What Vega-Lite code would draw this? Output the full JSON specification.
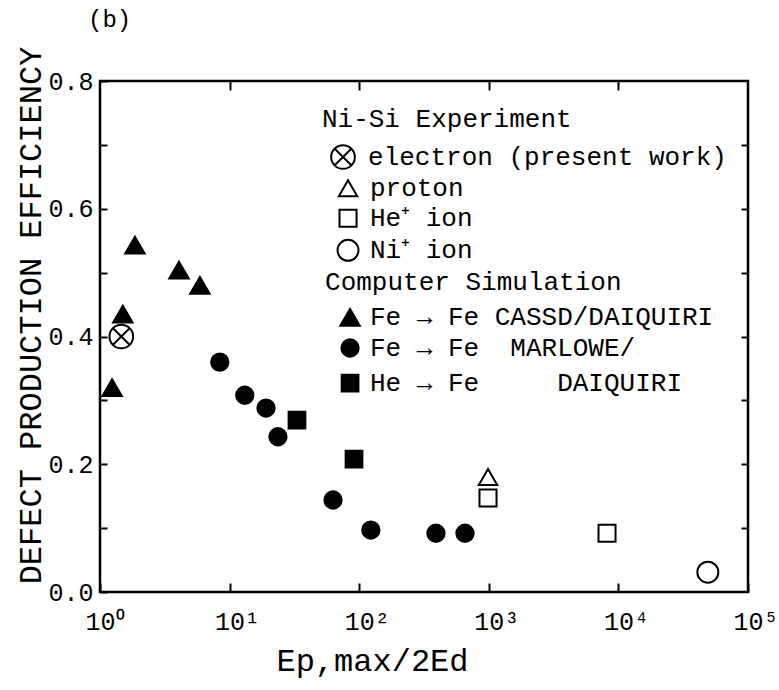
{
  "$schema": "https://vega.github.io/schema/vega-lite/v6.json",
  "width": 648,
  "height": 511,
  "autosize": {"type": "none"},
  "padding": {"left": 100, "top": 81, "right": 31, "bottom": 98},
  "background": "white",
  "title": {"text": "(b)", "anchor": "start", "frame": "group", "font": "Liberation Mono", "fontSize": 24, "fontWeight": "normal", "color": "black", "dx": -12, "offset": 14},
  "config": {
    "view": {"stroke": "black", "strokeWidth": 2.5},
    "axis": {"domain": false, "grid": false, "labelFont": "Liberation Mono", "titleFont": "Liberation Mono", "labelColor": "black", "titleColor": "black", "tickColor": "black", "tickWidth": 2, "labelFontSize": 25, "titleFontWeight": "normal", "titleFontSize": 32, "labelFlush": false}
  },
  "datasets": {
    "points": [
      {"x": 1.24, "y": 0.32, "s": "Fe CASSD"},
      {"x": 1.50, "y": 0.435, "s": "Fe CASSD"},
      {"x": 1.86, "y": 0.543, "s": "Fe CASSD"},
      {"x": 4.07, "y": 0.504, "s": "Fe CASSD"},
      {"x": 5.9, "y": 0.48, "s": "Fe CASSD"},
      {"x": 1.46, "y": 0.40, "s": "electron"},
      {"x": 8.4, "y": 0.36, "s": "Fe MARLOWE"},
      {"x": 13.1, "y": 0.308, "s": "Fe MARLOWE"},
      {"x": 19.1, "y": 0.288, "s": "Fe MARLOWE"},
      {"x": 23.6, "y": 0.243, "s": "Fe MARLOWE"},
      {"x": 62.8, "y": 0.144, "s": "Fe MARLOWE"},
      {"x": 123, "y": 0.097, "s": "Fe MARLOWE"},
      {"x": 391, "y": 0.092, "s": "Fe MARLOWE"},
      {"x": 655, "y": 0.092, "s": "Fe MARLOWE"},
      {"x": 33.1, "y": 0.269, "s": "He DAIQUIRI"},
      {"x": 91.2, "y": 0.208, "s": "He DAIQUIRI"},
      {"x": 986, "y": 0.18, "s": "proton"},
      {"x": 986, "y": 0.147, "s": "He+ ion"},
      {"x": 8170, "y": 0.092, "s": "He+ ion"},
      {"x": 49000, "y": 0.031, "s": "Ni+ ion"}
    ],
    "legsym": [
      {"x": 75, "y": 0.681, "s": "electron"},
      {"x": 82, "y": 0.632, "s": "proton"},
      {"x": 82, "y": 0.585, "s": "He+ ion"},
      {"x": 82, "y": 0.535, "s": "Ni+ ion"},
      {"x": 85, "y": 0.43, "s": "Fe CASSD"},
      {"x": 85, "y": 0.382, "s": "Fe MARLOWE"},
      {"x": 85, "y": 0.327, "s": "He DAIQUIRI"}
    ],
    "legtext": [
      {"x": 51.6, "y": 0.741, "label": "Ni-Si Experiment"},
      {"x": 117, "y": 0.681, "label": "electron (present work)"},
      {"x": 121, "y": 0.632, "label": "proton"},
      {"x": 121, "y": 0.585, "label": "He\u207a ion"},
      {"x": 121, "y": 0.535, "label": "Ni\u207a ion"},
      {"x": 54.5, "y": 0.485, "label": "Computer Simulation"},
      {"x": 121, "y": 0.43, "label": "Fe \u2192 Fe CASSD/DAIQUIRI"},
      {"x": 121, "y": 0.382, "label": "Fe \u2192 Fe\u00a0\u00a0MARLOWE/"},
      {"x": 121, "y": 0.327, "label": "He \u2192 Fe\u00a0\u00a0\u00a0\u00a0\u00a0DAIQUIRI"}
    ]
  },
  "resolve": {"axis": {"x": "independent", "y": "independent"}},
  "layer": [
    {
      "data": {"name": "points"},
      "mark": {"type": "point", "stroke": "black", "strokeWidth": 2, "opacity": 1},
      "encoding": {
        "x": {"field": "x", "type": "quantitative", "scale": {"type": "log", "domain": [1, 100000]},
          "axis": {"values": [1, 10, 100, 1000, 10000, 100000], "tickSize": -9, "labelPadding": 26, "labelAlign": "left", "labelOffset": -15, "labelFontSize": 25,
            "labelExpr": "'10' + ['\u2070','\u00b9','\u00b2','\u00b3','\u2074','\u2075'][round(log(datum.value)/LN10)]",
            "title": "Ep,max/2Ed", "titleX": 272, "titleY": 68, "titleAlign": "center", "titleBaseline": "middle"}},
        "y": {"field": "y", "type": "quantitative", "scale": {"domain": [0, 0.8]},
          "axis": {"values": [0, 0.1, 0.2, 0.3, 0.4, 0.5, 0.6, 0.7, 0.8], "tickSize": -7, "labelPadding": 14,
            "labelExpr": "abs(datum.value*10 - 2*round(datum.value*5)) < 0.01 ? format(datum.value, '.1f') : ''",
            "title": "DEFECT PRODUCTION EFFICIENCY", "titleX": -70, "titleY": 234, "titleAngle": -90, "titleAlign": "center", "titleBaseline": "middle"}},
        "shape": {"field": "s", "type": "nominal", "legend": null, "scale": {"domain": ["electron", "proton", "He+ ion", "Ni+ ion", "Fe CASSD", "Fe MARLOWE", "He DAIQUIRI"], "range": ["M-1,0A1,1,0,1,0,1,0A1,1,0,1,0,-1,0ZM-0.7,-0.7L0.7,0.7M-0.7,0.7L0.7,-0.7", "triangle-up", "square", "circle", "triangle-up", "circle", "square"]}},
        "fill": {"field": "s", "type": "nominal", "legend": null, "scale": {"domain": ["electron", "proton", "He+ ion", "Ni+ ion", "Fe CASSD", "Fe MARLOWE", "He DAIQUIRI"], "range": ["white", "white", "white", "white", "black", "black", "black"]}},
        "size": {"field": "s", "type": "nominal", "legend": null, "scale": {"type": "ordinal", "domain": ["electron", "proton", "He+ ion", "Ni+ ion", "Fe CASSD", "Fe MARLOWE", "He DAIQUIRI"], "range": [560, 340, 290, 440, 380, 300, 280]}}
      }
    },
    {
      "data": {"name": "legsym"},
      "mark": {"type": "point", "stroke": "black", "strokeWidth": 2, "opacity": 1},
      "encoding": {
        "x": {"field": "x", "type": "quantitative", "scale": {"type": "log", "domain": [1, 100000]}, "axis": null},
        "y": {"field": "y", "type": "quantitative", "scale": {"domain": [0, 0.8]}, "axis": null},
        "shape": {"field": "s", "type": "nominal", "legend": null, "scale": {"domain": ["electron", "proton", "He+ ion", "Ni+ ion", "Fe CASSD", "Fe MARLOWE", "He DAIQUIRI"], "range": ["M-1,0A1,1,0,1,0,1,0A1,1,0,1,0,-1,0ZM-0.7,-0.7L0.7,0.7M-0.7,0.7L0.7,-0.7", "triangle-up", "square", "circle", "triangle-up", "circle", "square"]}},
        "fill": {"field": "s", "type": "nominal", "legend": null, "scale": {"domain": ["electron", "proton", "He+ ion", "Ni+ ion", "Fe CASSD", "Fe MARLOWE", "He DAIQUIRI"], "range": ["white", "white", "white", "white", "black", "black", "black"]}},
        "size": {"field": "s", "type": "nominal", "legend": null, "scale": {"type": "ordinal", "domain": ["electron", "proton", "He+ ion", "Ni+ ion", "Fe CASSD", "Fe MARLOWE", "He DAIQUIRI"], "range": [560, 340, 290, 440, 380, 300, 280]}}
      }
    },
    {
      "data": {"name": "legtext"},
      "mark": {"type": "text", "align": "left", "baseline": "middle", "font": "Liberation Mono", "fontSize": 26, "color": "black"},
      "encoding": {
        "x": {"field": "x", "type": "quantitative", "scale": {"type": "log", "domain": [1, 100000]},
          "axis": {"orient": "top", "values": [10, 100, 1000, 10000], "tickSize": -9, "labels": false, "title": null}},
        "y": {"field": "y", "type": "quantitative", "scale": {"domain": [0, 0.8]},
          "axis": {"orient": "right", "values": [0.1, 0.2, 0.3, 0.4, 0.5, 0.6, 0.7], "tickSize": -7, "labels": false, "title": null}},
        "text": {"field": "label"}
      }
    }
  ]
}
